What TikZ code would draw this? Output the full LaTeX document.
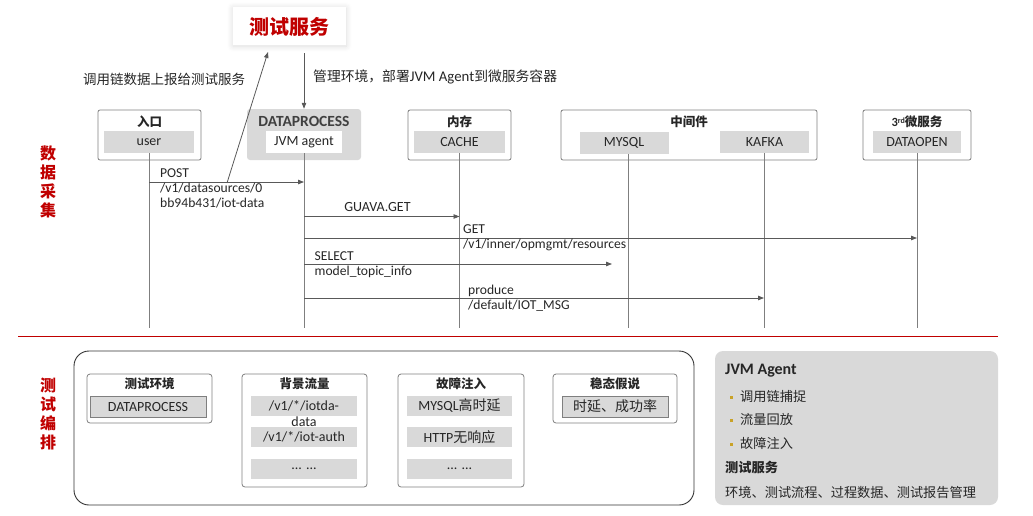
\documentclass[tikz,border=0pt]{standalone}
\usepackage{fontspec}
\setmainfont{Carlito}
\newfontfamily\cjk{Noto Sans CJK SC}
\usetikzlibrary{arrows.meta,shadows.blur}
\definecolor{redc}{HTML}{C00000}
\definecolor{boxg}{HTML}{D9D9D9}
\definecolor{edgeg}{HTML}{7F7F7F}
\definecolor{lineg}{HTML}{595959}
\definecolor{txt}{HTML}{262626}
\definecolor{goldc}{HTML}{C9A227}
\newcommand\zhc[1]{{\cjk #1}}
\newcommand\zhb[1]{{\cjk\bfseries #1}}
\begin{document}
\begin{tikzpicture}[x=1pt,y=-1pt,
  every node/.style={text=txt, font=\fontsize{14}{15}\selectfont, inner sep=0pt},
  grp/.style={draw=edgeg, line width=0.8pt, rounded corners=2pt, minimum height=50pt},
  ttl/.style={font=\fontsize{12.5}{14}\selectfont},
  inbox/.style={fill=boxg, minimum height=22pt},
  inboxb/.style={fill=boxg, draw=edgeg, line width=0.7pt, minimum height=21pt},
  subgrp/.style={draw=edgeg, line width=0.8pt, rounded corners=3pt},
  life/.style={draw=edgeg, line width=0.9pt},
  msg/.style={draw=lineg, line width=0.8pt, -{Triangle[length=6pt,width=4.5pt]}},
  lbl/.style={anchor=west, align=left, font=\fontsize{13.6}{15}\selectfont},
  side/.style={text=redc, align=center, font=\fontsize{16}{19}\selectfont},
  bul/.style={fill=goldc, minimum size=3pt},
  ptxt/.style={anchor=west, font=\fontsize{13.2}{15}\selectfont}
]
\useasboundingbox (0,0) rectangle (1033,515);

% top service box
\node[fill=white, minimum width=113pt, minimum height=38pt,
  blur shadow={shadow blur steps=12, shadow xshift=0pt, shadow yshift=-1pt, shadow opacity=14, shadow blur radius=6pt}]
  (svc) at (289.5,26) {};
\node[text=redc, font=\fontsize{20}{22}\selectfont] (svct) at (289.5,27) {\zhb{测试服务}};

% top labels
\node[anchor=west, font=\fontsize{13.5}{15}\selectfont] (lblrep) at (83,79) {\zhc{调用链数据上报给测试服务}};
\node[anchor=west, font=\fontsize{13.8}{15}\selectfont] (lblmgmt) at (313,77) {\zhc{管理环境，部署}{\fontsize{14.8}{15}\selectfont JVM Agent}\zhc{到微服务容器}};

% participants
\node[grp, minimum width=103pt] (entry) at (149.5,135) {};
\node[ttl] (entryt) at (149.5,122) {\zhb{入口}};
\node[inbox, minimum width=90pt] (user) at (149,142) {user};

\node[fill=boxg, rounded corners=3pt, minimum width=114pt, minimum height=51pt] (dp) at (304,134.5) {};
\node[text=black!75, font=\fontsize{15.5}{16}\selectfont\bfseries] (dpt) at (304,121) {DATAPROCESS};
\node[fill=white, minimum width=76pt, minimum height=22pt] (jvm) at (304,142) {JVM agent};

\node[grp, minimum width=103pt] (mem) at (459.5,135) {};
\node[ttl] (memt) at (459.5,122) {\zhb{内存}};
\node[inbox, minimum width=91pt] (cache) at (459.5,142) {CACHE};

\node[grp, minimum width=256pt] (mid) at (689,135) {};
\node[ttl] (midt) at (689,122) {\zhb{中间件}};
\node[inbox, minimum width=89pt] (mysql) at (624,143) {MYSQL};
\node[inbox, minimum width=89pt] (kafka) at (764.5,142) {KAFKA};

\node[grp, minimum width=108pt] (third) at (917,135) {};
\node[ttl] (thirdt) at (917,122) {\textbf{3}\raisebox{0.6ex}{\fontsize{8}{9}\selectfont\bfseries rd}\zhb{微服务}};
\node[inbox, minimum width=88pt] (dopen) at (917,142) {DATAOPEN};

% lifeline coordinates
\coordinate (uTop) at (149,153);   \coordinate (uBot) at (149,328);
\coordinate (dTop) at (304,153);   \coordinate (dBot) at (304,328);
\coordinate (cTop) at (459.5,153); \coordinate (cBot) at (459.5,328);
\coordinate (mTop) at (628.5,154); \coordinate (mBot) at (628.5,328);
\coordinate (kTop) at (764,153);   \coordinate (kBot) at (764,328);
\coordinate (oTop) at (917,153);   \coordinate (oBot) at (917,328);
\draw[life] (uTop) -- (uBot);
\draw[life] (dTop) -- (dBot);
\draw[life] (cTop) -- (cBot);
\draw[life] (mTop) -- (mBot);
\draw[life] (kTop) -- (kBot);
\draw[life] (oTop) -- (oBot);

% vertical arrows to/from service
\coordinate (repS) at (227,183);
\coordinate (repE) at (268,52);
\draw[msg] (repS) -- (repE);
\coordinate (dnS) at (304,53);
\draw[msg] (dnS) -- (dp.north);

% messages
\coordinate (u1) at (149,182);   \coordinate (d1) at (304,182);
\coordinate (d2) at (304,216.5); \coordinate (c2) at (459.5,216.5);
\coordinate (d3) at (304,238);   \coordinate (o3) at (917,238);
\coordinate (d4) at (304,264);   \coordinate (m4) at (612,264);
\coordinate (d5) at (304,298);   \coordinate (k5) at (764,298);
\draw[msg] (u1) -- (d1);
\draw[msg] (d2) -- (c2);
\draw[msg] (d3) -- (o3);
\draw[msg] (d4) -- (m4);
\draw[msg] (d5) -- (k5);
\node[lbl] (l1) at (160,188) {POST\\/v1/datasources/0\\bb94b431/iot-data};
\node[font=\fontsize{14}{15}\selectfont] (l2) at (377.5,207) {GUAVA.GET};
\node[lbl] (l3) at (463,238) {GET\\/v1/inner/opmgmt/resources};
\node[lbl] (l4) at (314.5,264.5) {SELECT\\model\_topic\_info};
\node[lbl] (l5) at (468,298.5) {produce\\/default/IOT\_MSG};

% separator
\coordinate (sepL) at (18,336); \coordinate (sepR) at (998,336);
\draw[redc, line width=1pt] (sepL) -- (sepR);

% side labels
\node[side] (s1) at (48,181.5) {\zhb{数}\\\zhb{据}\\\zhb{采}\\\zhb{集}};
\node[side] (s2) at (48,413.5) {\zhb{测}\\\zhb{试}\\\zhb{编}\\\zhb{排}};

% bottom big box
\node[draw=black!80, line width=0.9pt, rounded corners=15pt, minimum width=620pt, minimum height=154pt] (orch) at (384,428) {};

\node[subgrp, minimum width=125pt, minimum height=49pt] (env) at (149.5,398.5) {};
\node[ttl] (envt) at (149.5,384) {\zhb{测试环境}};
\node[inboxb, minimum width=116pt] (envdp) at (148,406.5) {DATAPROCESS};

\node[subgrp, minimum width=125pt, minimum height=113pt] (bg) at (304.5,430.5) {};
\node[ttl] (bgt) at (304.5,384) {\zhb{背景流量}};
\node[inbox, minimum width=106pt, minimum height=20pt] (bg1) at (304,406) {/v1/*/iotda-};
\node (bg1b) at (304,421.5) {data};
\node[inbox, minimum width=106pt, minimum height=20pt] (bg2) at (304,437) {/v1/*/iot-auth};
\node[inbox, minimum width=106pt, minimum height=20pt] (bg3) at (304,469) {... ...};

\node[subgrp, minimum width=126pt, minimum height=113pt] (fault) at (461,430.5) {};
\node[ttl] (faultt) at (461,384) {\zhb{故障注入}};
\node[inbox, minimum width=105pt, minimum height=20pt] (f1) at (459.5,406) {MYSQL\zhc{高时延}};
\node[inbox, minimum width=105pt, minimum height=20pt] (f2) at (459.5,437) {HTTP\zhc{无响应}};
\node[inbox, minimum width=105pt, minimum height=20pt] (f3) at (459.5,469) {... ...};

\node[subgrp, minimum width=124pt, minimum height=49pt] (steady) at (615,398.5) {};
\node[ttl] (steadyt) at (615,384) {\zhb{稳态假说}};
\node[inboxb, minimum width=106pt] (st1) at (615,406.5) {\zhc{时延、成功率}};

% right panel
\node[fill=boxg, rounded corners=8pt, minimum width=283pt, minimum height=154pt] (panel) at (856.5,428) {};
\node[anchor=west, font=\fontsize{16}{18}\selectfont\bfseries] (pj) at (725,371) {JVM Agent};
\node[bul] (b1) at (731,397) {};
\node[bul] (b2) at (731,420.5) {};
\node[bul] (b3) at (731,444) {};
\node[ptxt] (p1) at (740,396) {\zhc{调用链捕捉}};
\node[ptxt] (p2) at (740,419.5) {\zhc{流量回放}};
\node[ptxt] (p3) at (740,443) {\zhc{故障注入}};
\node[ptxt] (p4) at (725,467.5) {\zhb{测试服务}};
\node[ptxt] (p5) at (725,492.5) {\zhc{环境、测试流程、过程数据、测试报告管理}};
\end{tikzpicture}
\end{document}
